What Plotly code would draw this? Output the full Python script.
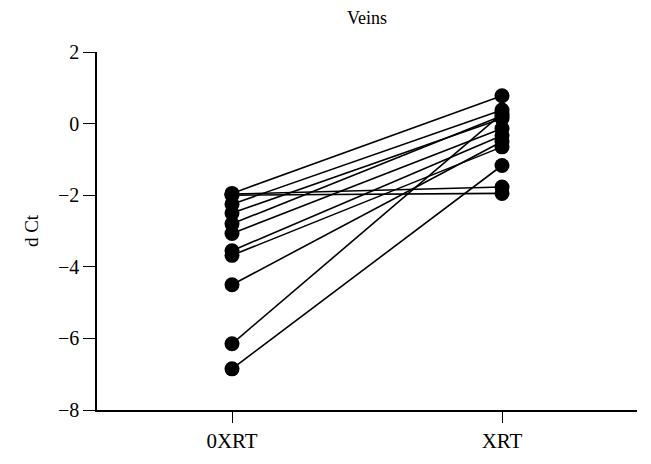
import plotly.graph_objects as go

categories = ["0XRT", "XRT"]
before = [-1.95, -1.97, -2.0, -2.25, -2.5, -2.8, -3.07, -3.55, -3.68, -4.5, -6.15, -6.85]
after = [0.78, -1.77, -1.95, 0.38, 0.14, 0.22, -0.14, -0.33, -0.65, -0.5, 0.28, -1.17]
y_ticks = [2, 0, -2, -4, -6, -8]

fig = go.Figure()
for b, a in zip(before, after):
    fig.add_trace(go.Scatter(
        x=[0, 1], y=[b, a], mode="lines+markers",
        line=dict(color="black", width=1.6),
        marker=dict(color="black", size=15),
        showlegend=False, hoverinfo="skip"))

font = "Liberation Serif, Times New Roman, serif"
fig.update_layout(
    width=651, height=464,
    margin=dict(l=89, r=22, t=44, b=62),
    plot_bgcolor="white", paper_bgcolor="white",
    font=dict(family=font, color="black", size=20),
    title=dict(text="Veins", x=0.5, xref="paper", xanchor="center",
               y=1 - 10 / 464, yref="container", yanchor="middle",
               font=dict(size=18, family=font, color="black")),
)
fig.update_xaxes(
    range=[-0.5, 1.5], tickvals=[0, 1], ticktext=categories,
    showline=True, linecolor="black", linewidth=1.5,
    ticks="outside", ticklen=11, tickwidth=1.2, tickcolor="black",
    showgrid=False, zeroline=False, tickfont=dict(size=21))
fig.update_yaxes(
    range=[-8, 2], tickvals=y_ticks, ticktext=[str(v).replace("-", "\u2212") for v in y_ticks],
    showline=True, linecolor="black", linewidth=1.5,
    ticks="outside", ticklen=12, tickwidth=1.2, tickcolor="black",
    showgrid=False, zeroline=False, tickfont=dict(size=20),
    title=dict(text="d Ct", font=dict(size=19), standoff=14))

fig.write_html("out.html")
